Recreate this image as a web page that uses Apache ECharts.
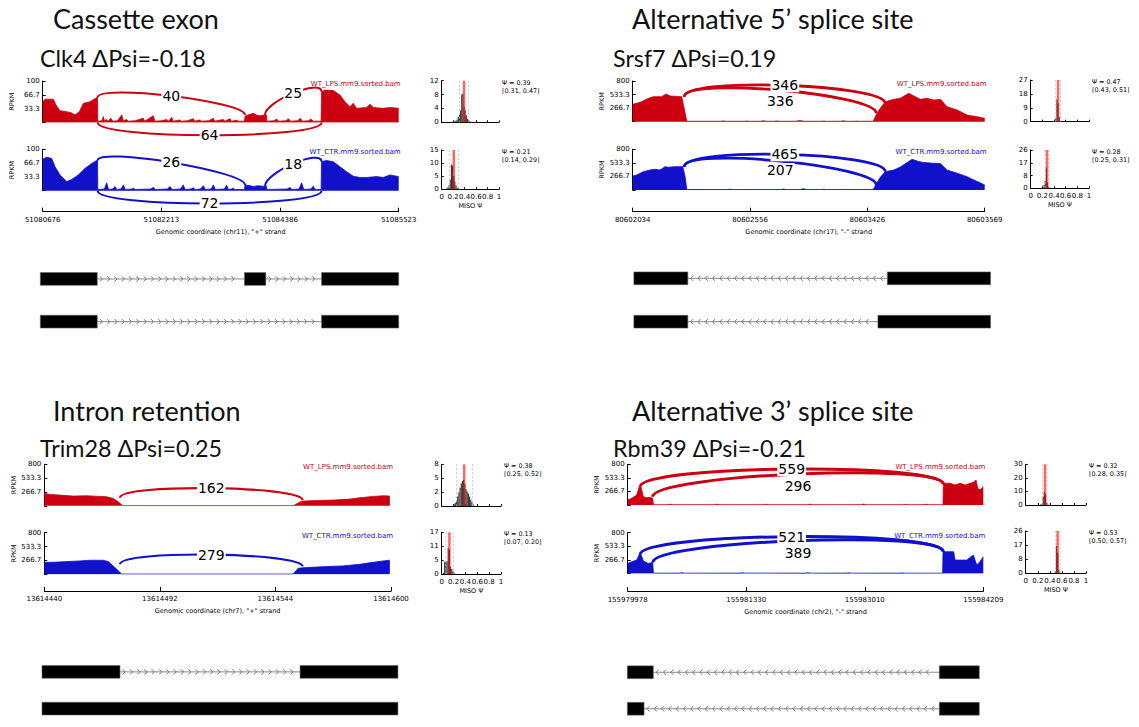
<!DOCTYPE html>
<html><head><meta charset="utf-8">
<script src="https://cdn.jsdelivr.net/npm/echarts@6/dist/echarts.min.js"></script>
<style>html,body{margin:0;padding:0;background:#fff}#c{width:1139px;height:727px}</style>
</head><body><div id="c"></div><script>
const RED = '#CC0011', BLUE = '#1111CC';

// ---------- Clk4, cassette exon ----------
const clk4Ticks = ['51080676', '51082213', '51084386', '51085523'];
const clk4Lps = [[0,50],[2,56],[9,56],[11.2,42],[14.6,28],[20.2,26],[24.4,23],[27.2,18],[30.9,26],[34.3,46],[39.9,50],[45.5,60],[46.2,60],[46.4,3],
  [50,4],[51,14],[52,4],[53.5,7],[55,3],[57.5,10],[59,3],[63,4],[66.6,18],[68,4],[70.8,7],[72,3],[78,4],[84.8,10],[86,3],[93.2,16],[94.5,3],[100,4],[104.5,7],[106,3],[108.7,12],[110,3],[115.7,6],[117,3],[122,4],[126.9,9],[128,3],[132.5,6],[134,3],[140,4],[143.8,10],[145,3],[152.2,7],[153.5,3],[157.8,9],[159,3],[163.4,5],[165,3],[170,3],
  [170.5,15],[173,18],[177.5,22],[180,18],[183.1,16],[185,17],[187.3,18],[188.5,18],[188.9,3],
  [195,4],[197,8],[199,3],[205,4],[207,9],[209,3],[215,4],[217,10],[219,3],[224,4],[226,8],[228,3],[234.6,3],
  [235,74],[237.9,78],[244.9,77],[250.5,66],[254.7,50],[258.9,38],[261.7,46],[264.5,34],[273,36],[275.8,44],[278.6,36],[287,34],[292.6,36],[300,34]];
const clk4Ctr = [[0,76],[3.4,81],[7.6,78],[10.4,58],[14.6,38],[20.2,22],[24.4,27],[30,38],[35.7,54],[41.3,66],[45.5,73],[46.2,73],[46.4,3],
  [52,4],[53.9,19],[55.5,3],[59,4],[60.9,10],[62.5,3],[66,4],[68,14],[69.5,3],[75,4],[76.4,6],[78,3],[91,4],[93.2,8],[95,3],[105,4],[107.3,10],[109,3],[116,4],[118.5,14],[120,3],[125,4],[126.9,7],[128.5,3],[133,4],[135.4,12],[137,3],[142,4],[143.8,14],[145.5,3],[153,4],[155,13],[156.5,3],[159,4],[160.6,6],[162,3],[170,3],
  [170.5,14],[175,12],[177.5,10],[181,12],[185,11],[188.5,11],[188.9,3],
  [206,4],[208.4,8],[210,3],[216,4],[218.2,19],[220,3],[226,4],[228,11],[229.5,3],[234.6,3],
  [235,70],[239.1,73],[244.9,70],[250.5,58],[256.1,46],[261.7,35],[267.3,32],[273,32],[281.4,34],[287,32],[292.6,38],[300,34]];
// junctions: [leftSite, leftDensity, rightSite, rightDensity, reads, side(1 top / -1 bottom)]
const clk4LpsJxn = [[46.3,60,170.5,18,40,1],[187.3,18,235,74,25,1],[46.3,0,235,0,64,-1]];
const clk4CtrJxn = [[46.3,73,170.5,14,26,1],[187.3,11,235,70,18,1],[46.3,0,235,0,72,-1]];
const clk4LpsHist = [[0.23,0.3],[0.25,0.5],[0.27,0.8],[0.29,1.5],[0.31,2.2],[0.33,3.5],[0.35,8],[0.37,8.2],[0.39,4.5],[0.41,3.5],[0.43,2],[0.45,1],[0.47,0.6],[0.49,0.3]];
const clk4CtrHist = [[0.09,0.3],[0.11,0.8],[0.13,1.5],[0.15,3.6],[0.17,9.5],[0.19,9],[0.21,5.1],[0.23,3],[0.25,1.5],[0.27,0.6],[0.29,0.3]];
const clk4HistMax = [12, 15];
const clk4Psi = [[0.39,0.31,0.47],[0.21,0.14,0.29]];
const clk4Isoforms = [[[-2,46],[170,188],[235,300]], [[-2,46],[235,300]]];

// ---------- Srsf7, alternative 5' splice site ----------
const srsf7Ticks = ['80602034', '80602556', '80603426', '80603569'];
const srsf7Lps = [[0,341],[6.3,380],[13.4,459],[17.6,492],[24.7,492],[28.4,544],[31.9,505],[41.8,492],[42.4,492],[44,250],[46.1,8],
  [75,9],[77.4,15],[80,8],[95,9],[97.3,12],[100,8],[109,9],[111.5,20],[114,8],[120,9],[122.9,14],[126,8],[139,9],[142.8,25],[146,8],[160,9],[162.7,12],[165,8],[177,9],[179.7,18],[182,8],[189,9],[191.1,12],[193,8],[205,10],
  [207.6,140],[211,262],[215.3,393],[222.4,439],[228.1,459],[235.2,557],[238.1,525],[245.2,439],[250.9,459],[256.5,426],[262.2,439],[267.9,295],[276.5,230],[285,131],[293.5,98],[300,66]];
const srsf7Ctr = [[0,275],[3.4,295],[9.1,361],[14.8,393],[19.1,407],[23.3,393],[27.6,459],[30.4,446],[36.1,459],[42.7,459],[44.7,262],[46.1,10],
  [80,9],[83,15],[86,8],[109,9],[111.5,12],[114,8],[126,9],[128.6,18],[131,8],[143,9],[145.6,25],[148,8],[160,9],[162.7,14],[165,8],[177,9],[179.7,12],[182,8],[194,9],[196.8,10],[199,8],[205,10],
  [207.6,120],[211,250],[215.3,361],[222.4,393],[228.1,450],[235.2,560],[238.1,603],[243.7,560],[248,540],[256.5,525],[262.2,520],[267.9,393],[276.5,330],[285,262],[290.7,197],[296.4,140],[300,98]];
const srsf7LpsJxn = [[44,492,215.3,360,346,1],[44,492,207.6,164,336,1]];
const srsf7CtrJxn = [[44,459,215.3,361,465,1],[44,459,207.6,98,207,1]];
const srsf7LpsHist = [[0.39,0.5],[0.41,1],[0.43,2],[0.45,14.5],[0.47,12],[0.49,3],[0.51,0.6]];
const srsf7CtrHist = [[0.21,0.5],[0.23,2.3],[0.25,5],[0.27,14],[0.29,4],[0.31,1]];
const srsf7HistMax = [27, 26];
const srsf7Psi = [[0.47,0.43,0.51],[0.28,0.25,0.31]];
const srsf7Isoforms = [[[1,47],[217,305]], [[1,47],[209,305]]];

// ---------- Trim28, intron retention ----------
const trim28Ticks = ['13614440', '13614492', '13614544', '13614600'];
const trim28Lps = [[0,239],[4.9,219],[13.6,206],[25.1,187],[36.6,194],[48.2,181],[53.9,174],[59.7,142],[64,77],[67.8,3],[215.4,3],
  [222.6,90],[229.8,97],[250,110],[264.4,129],[273.1,155],[284.6,181],[293.3,194],[299,187]];
const trim28Ctr = [[0,230],[7.8,230],[19.3,243],[30.8,256],[39.5,269],[51,269],[55.4,243],[61.1,128],[66.9,3],[215.4,3],
  [219.7,115],[226.9,128],[244.2,147],[258.6,160],[273.1,192],[284.6,230],[293.3,256],[299,269]];
const trim28LpsJxn = [[65.5,155,223.5,110,162,1]];
const trim28CtrJxn = [[65.5,192,223.5,147,279,1]];
const trim28LpsHist = [[0.21,0.3],[0.23,0.6],[0.25,1],[0.27,1.8],[0.29,2.6],[0.31,3.5],[0.33,4.3],[0.35,4.8],[0.37,5],[0.39,4.2],[0.41,3.2],[0.43,2.8],[0.45,2.4],[0.47,1.8],[0.49,1.2],[0.51,0.7],[0.53,0.3]];
const trim28CtrHist = [[0.03,0.5],[0.05,5],[0.07,5],[0.09,5.2],[0.11,10.5],[0.13,10],[0.15,3],[0.17,2],[0.19,1],[0.21,0.4]];
const trim28HistMax = [8, 17];
const trim28Psi = [[0.38,0.25,0.52],[0.13,0.07,0.20]];
const trim28Isoforms = [[[-2,65.5],[221.3,306]], [[-2,306]]];

// ---------- Rbm39, alternative 3' splice site ----------
const rbm39Ticks = ['155979978', '155981330', '155983010', '155984209'];
const rbm39Lps = [[0,98],[3.4,131],[7.6,197],[9.8,361],[11.2,361],[13.2,164],[16,144],[18.8,151],[21.1,131],[21.7,5],
  [34,6],[35.7,15],[37.5,5],[73,6],[75,15],[77,5],[115,6],[117,12],[119,5],[152,6],[154,15],[156,5],[197,6],[199,18],[201,5],[233,6],[235,12],[237,5],[250,6],[252,15],[254,5],[266,5],
  [266.3,426],[271.9,426],[276.2,393],[280.4,426],[284.6,393],[291.6,446],[293.9,492],[295.3,328],[297.2,295],[300,361]];
const rbm39Ctr = [[0,197],[3.4,230],[7.6,262],[9.8,374],[11.2,374],[13.2,243],[17.4,197],[21.1,216],[21.7,5],
  [44,6],[46,14],[48,5],[95,6],[97,12],[99,5],[150,6],[152,14],[154,5],[185,6],[187,12],[189,5],[230,6],[232,10],[234,5],[265.7,5],
  [266,426],[275,426],[276.2,262],[286,262],[291.6,361],[294.5,164],[297.2,230],[300,328]];
const rbm39LpsJxn = [[10.4,361,266.3,410,559,1],[21.1,164,266.3,410,296,1]];
const rbm39CtrJxn = [[10.4,374,266.3,426,521,1],[21.1,216,266.3,426,389,1]];
const rbm39LpsHist = [[0.25,0.4],[0.27,1],[0.29,6],[0.31,9.8],[0.33,8],[0.35,1.5],[0.37,0.4]];
const rbm39CtrHist = [[0.47,0.4],[0.49,1],[0.51,16.8],[0.53,12.6],[0.55,2],[0.57,0.5]];
const rbm39HistMax = [30, 26];
const rbm39Psi = [[0.32,0.28,0.35],[0.53,0.50,0.57]];
const rbm39Isoforms = [[[-0.3,21.6],[262.9,296.6]], [[-0.3,13.8],[262.9,296.6]]];

const sampleNames = ['WT_LPS.mm9.sorted.bam', 'WT_CTR.mm9.sorted.bam'];
const sampleColors = [RED, BLUE];

const panels = [
  { title: 'Cassette exon', sub: 'Clk4 ΔPsi=-0.18', ticks: clk4Ticks, xName: 'Genomic coordinate (chr11), "+" strand', ymax: 100, strand: 1,
    cov: [clk4Lps, clk4Ctr], jxn: [clk4LpsJxn, clk4CtrJxn], hist: [clk4LpsHist, clk4CtrHist], histMax: clk4HistMax, psi: clk4Psi, iso: clk4Isoforms,
    L: { tx: 53, ty: 18, sx: 40, sy: 58, covLeft: 42.7, covW: 356, tTop: [81, 149.3], tH: 41.4, axOff: 21,
         hLeft: 441.7, hW: 57.3, hTop: [80.7, 150], hH: [41.6, 39.3], gTop: 257.6, gH: 85.4,
         arcH: 33, arcHb: 41, arcW: 2, lblDy: [[0,0,0],[0,0,0]] } },
  { title: 'Alternative 5’ splice site', sub: 'Srsf7 ΔPsi=0.19', ticks: srsf7Ticks, xName: 'Genomic coordinate (chr17), "-" strand', ymax: 800, strand: -1,
    cov: [srsf7Lps, srsf7Ctr], jxn: [srsf7LpsJxn, srsf7CtrJxn], hist: [srsf7LpsHist, srsf7CtrHist], histMax: srsf7HistMax, psi: srsf7Psi, iso: srsf7Isoforms,
    L: { tx: 632, ty: 18, sx: 613, sy: 58, covLeft: 632.7, covW: 352, tTop: [81, 149.3], tH: 40.7, axOff: 21.7,
         hLeft: 1030.7, hW: 58.3, hTop: [80, 150], hH: [41.7, 38.3], gTop: 256.6, gH: 86.8,
         arcH: 387, arcHb: 300, arcW: 2.8, lblDy: [[0,11],[0,9]] } },
  { title: 'Intron retention', sub: 'Trim28 ΔPsi=0.25', ticks: trim28Ticks, xName: 'Genomic coordinate (chr7), "+" strand', ymax: 800, strand: 1,
    cov: [trim28Lps, trim28Ctr], jxn: [trim28LpsJxn, trim28CtrJxn], hist: [trim28LpsHist, trim28CtrHist], histMax: trim28HistMax, psi: trim28Psi, iso: trim28Isoforms,
    L: { tx: 53, ty: 410, sx: 40, sy: 448, covLeft: 44.3, covW: 346.7, tTop: [464.3, 532.7], tH: 41.5, axOff: 16.7,
         hLeft: 441.7, hW: 59.3, hTop: [464.3, 532.3], hH: [41.7, 41.7], gTop: 653.5, gH: 88.6,
         arcH: 278, arcHb: 300, arcW: 2.2, lblDy: [[0],[0]] } },
  { title: 'Alternative 3’ splice site', sub: 'Rbm39 ΔPsi=-0.21', ticks: rbm39Ticks, xName: 'Genomic coordinate (chr2), "-" strand', ymax: 800, strand: -1,
    cov: [rbm39Lps, rbm39Ctr], jxn: [rbm39LpsJxn, rbm39CtrJxn], hist: [rbm39LpsHist, rbm39CtrHist], histMax: rbm39HistMax, psi: rbm39Psi, iso: rbm39Isoforms,
    L: { tx: 632, ty: 410, sx: 613, sy: 448, covLeft: 627.7, covW: 355.6, tTop: [464.3, 532.7], tH: 40.7, axOff: 17.7,
         hLeft: 1025.7, hW: 60.3, hTop: [464.3, 531], hH: [40.7, 42.3], gTop: 654, gH: 88,
         arcH: 430, arcHb: 300, arcW: 3, lblDy: [[0,12],[0,12]] } }
];

const grids = [], xAxes = [], yAxes = [], series = [], graphics = [];
const smallFont = (s) => ({ fontFamily: 'DejaVu Sans', fontSize: s, color: '#000' });
const axLine = { show: true, onZero: false, lineStyle: { color: '#000', width: 1 } };
function addText(x, y, text, font, fill, align) {
  graphics.push({ type: 'text', x, y, silent: true,
    style: { text, font, fill, textAlign: align || 'left', textVerticalAlign: 'middle', align: align || 'left', verticalAlign: 'middle' } });
}
function fmtY(v, max) {
  if (Math.abs(v) < 1e-9) return '';
  if (Math.abs(v - max) < 1e-6) return String(max);
  return (Math.round(v * 10) / 10).toFixed(1);
}
function arcRenderer(color, H, Hb, w, dys) {
  return function (params, api) {
    const x1 = api.value(0), y1 = api.value(1), x2 = api.value(2), y2 = api.value(3), n = api.value(4), side = api.value(5);
    let P;
    if (side > 0) P = [[x1, y1], [x1, y1 + H], [x2, y2 + H], [x2, y2]];
    else P = [[x1, 0], [x1, -Hb], [x2, -Hb], [x2, 0]];
    const p = P.map(q => api.coord(q));
    const mx = (p[0][0] + 3 * p[1][0] + 3 * p[2][0] + p[3][0]) / 8;
    const my = (p[0][1] + 3 * p[1][1] + 3 * p[2][1] + p[3][1]) / 8;
    const dy = (dys && dys[params.dataIndex]) || 0;
    return { type: 'group', children: [
      { type: 'bezierCurve', shape: { x1: p[0][0], y1: p[0][1], cpx1: p[1][0], cpy1: p[1][1], cpx2: p[2][0], cpy2: p[2][1], x2: p[3][0], y2: p[3][1] },
        style: { stroke: color, lineWidth: w, fill: 'none' } },
      { type: 'text', x: mx, y: my + dy, z2: 10,
        style: { text: String(n), font: '14px "DejaVu Sans"', fill: '#000', textAlign: 'center', textVerticalAlign: 'middle', align: 'center', verticalAlign: 'middle', backgroundColor: '#fff', padding: [0, 1] } }
    ] };
  };
}

panels.forEach((pn) => {
  const L = pn.L;
  addText(L.tx, L.ty, pn.title, '27px Lato', '#111');
  addText(L.sx, L.sy, pn.sub, '23.3px Lato', '#111');
  [0, 1].forEach((k) => {
    // coverage track
    const gi = grids.length;
    grids.push({ left: L.covLeft, top: L.tTop[k], width: L.covW, height: L.tH });
    const xi = xAxes.length, yi = yAxes.length;
    xAxes.push({ gridIndex: gi, type: 'value', min: 0, max: 300, interval: 100, show: k === 1, offset: L.axOff,
      axisLine: axLine, axisTick: { show: true, inside: true, length: 4, lineStyle: { color: '#000' } }, splitLine: { show: false },
      axisLabel: Object.assign(smallFont(7), { margin: 5, formatter: (v) => pn.ticks[Math.round(v / 100)] }),
      name: pn.xName, nameLocation: 'middle', nameGap: 17, nameTextStyle: smallFont(6.5) });
    yAxes.push({ gridIndex: gi, type: 'value', min: 0, max: pn.ymax, interval: pn.ymax / 3,
      axisLine: axLine, axisTick: { show: true, inside: true, length: 3, lineStyle: { color: '#000' } }, splitLine: { show: false },
      axisLabel: Object.assign(smallFont(7), { margin: 3, formatter: (v) => fmtY(v, pn.ymax) }),
      name: 'RPKM', nameLocation: 'middle', nameRotate: 90, nameGap: 27, nameTextStyle: smallFont(6.5) });
    series.push({ type: 'line', xAxisIndex: xi, yAxisIndex: yi, data: pn.cov[k], symbol: 'none', showSymbol: false, silent: true,
      lineStyle: { color: sampleColors[k], width: 0.8 }, areaStyle: { color: sampleColors[k], opacity: 1 }, itemStyle: { color: sampleColors[k] } });
    series.push({ type: 'custom', xAxisIndex: xi, yAxisIndex: yi, clip: false, z: 5, silent: true, data: pn.jxn[k],
      encode: { x: [0, 2], y: [1, 3] }, renderItem: arcRenderer(sampleColors[k], L.arcH, L.arcHb, L.arcW, L.lblDy[k]) });
    addText(L.covLeft + L.covW + 2, L.tTop[k] + 3, sampleNames[k], '7px "DejaVu Sans"', sampleColors[k], 'right');

    // MISO posterior histogram
    const hg = grids.length;
    grids.push({ left: L.hLeft, top: L.hTop[k], width: L.hW, height: L.hH[k] });
    const hxi = xAxes.length, hyi = yAxes.length;
    const M = pn.histMax[k];
    xAxes.push({ gridIndex: hg, type: 'value', min: 0, max: 1, interval: 0.2,
      axisLine: axLine, axisTick: { show: true, inside: true, length: 2, lineStyle: { color: '#000' } }, splitLine: { show: false },
      axisLabel: Object.assign(smallFont(7), { show: k === 1, margin: 4, formatter: (v) => (v === 0 ? '0' : v === 1 ? '1' : String(Math.round(v * 10) / 10)) }),
      name: k === 1 ? 'MISO Ψ' : '', nameLocation: 'middle', nameGap: 13, nameTextStyle: smallFont(6.5) });
    yAxes.push({ gridIndex: hg, type: 'value', min: 0, max: M, interval: M / 3,
      axisLine: axLine, axisTick: { show: true, inside: true, length: 2, lineStyle: { color: '#000' } }, splitLine: { show: false },
      axisLabel: Object.assign(smallFont(7), { margin: 3, formatter: (v) => String(Math.floor(v + 1e-6)) }) });
    series.push({ type: 'custom', xAxisIndex: hxi, yAxisIndex: hyi, silent: true, data: pn.hist[k], encode: { x: 0, y: 1 },
      renderItem: (params, api) => {
        const a = api.coord([api.value(0) - 0.01, api.value(1)]);
        const b = api.coord([api.value(0) + 0.01, 0]);
        return { type: 'rect', shape: { x: a[0], y: a[1], width: b[0] - a[0], height: b[1] - a[1] }, style: { fill: '#3a3a3a' } };
      } });
    const ps = pn.psi[k];
    series.push({ type: 'custom', xAxisIndex: hxi, yAxisIndex: hyi, silent: true, z: 4,
      data: [[ps[1], 1], [ps[2], 1], [ps[0], 0]], encode: { x: 0 },
      renderItem: (params, api) => {
        const t = api.value(1);
        const a = api.coord([api.value(0), M]);
        const b = api.coord([api.value(0), 0]);
        return { type: 'line', shape: { x1: a[0], y1: a[1], x2: b[0], y2: b[1] },
          style: t === 0 ? { stroke: 'rgba(255,0,0,0.6)', lineWidth: 2.5 } : { stroke: '#bbb', lineWidth: 0.8, lineDash: [2, 2] } };
      } });
    addText(L.hLeft + L.hW + 3, L.hTop[k] + 2, 'Ψ = ' + ps[0].toFixed(2), '6.4px "DejaVu Sans"', '#000');
    addText(L.hLeft + L.hW + 3, L.hTop[k] + 10, '[' + ps[1].toFixed(2) + ', ' + ps[2].toFixed(2) + ']', '6.4px "DejaVu Sans"', '#000');
  });

  // gene models
  const gg = grids.length;
  grids.push({ left: L.covLeft, top: L.gTop, width: L.covW, height: L.gH });
  const gxi = xAxes.length, gyi = yAxes.length;
  xAxes.push({ gridIndex: gg, type: 'value', min: 0, max: 300, show: false });
  yAxes.push({ gridIndex: gg, type: 'category', data: ['isoform 1', 'isoform 2'], inverse: true, show: false });
  const exons = [], introns = [];
  pn.iso.forEach((row, r) => {
    row.forEach((e, i) => {
      exons.push([e[0], e[1], r]);
      if (i < row.length - 1) introns.push([e[1], row[i + 1][0], r]);
    });
  });
  const s = pn.strand;
  series.push({ type: 'custom', xAxisIndex: gxi, yAxisIndex: gyi, clip: false, silent: true, data: introns, encode: { x: [0, 1], y: 2 },
    renderItem: (params, api) => {
      const a = api.coord([api.value(0), api.value(2)]);
      const b = api.coord([api.value(1), api.value(2)]);
      const kids = [{ type: 'line', shape: { x1: a[0], y1: a[1], x2: b[0], y2: b[1] }, style: { stroke: '#888', lineWidth: 1 } }];
      const step = 7.3;
      const n = Math.floor((b[0] - a[0] - 2) / step);
      for (let i = 0; i < n; i++) {
        const cx = a[0] + 4 + i * step;
        kids.push({ type: 'polyline', shape: { points: [[cx - s * 1.4, a[1] - 2.6], [cx + s * 1.2, a[1]], [cx - s * 1.4, a[1] + 2.6]] },
          style: { stroke: '#777', lineWidth: 1, fill: null } });
      }
      return { type: 'group', children: kids };
    } });
  series.push({ type: 'custom', xAxisIndex: gxi, yAxisIndex: gyi, clip: false, silent: true, z: 3, data: exons, encode: { x: [0, 1], y: 2 },
    renderItem: (params, api) => {
      const a = api.coord([api.value(0), api.value(2)]);
      const b = api.coord([api.value(1), api.value(2)]);
      return { type: 'rect', shape: { x: a[0], y: a[1] - 6.4, width: b[0] - a[0], height: 12.8 }, style: { fill: '#000', stroke: '#666', lineWidth: 0.6 } };
    } });
});

const chart = echarts.init(document.getElementById('c'), null, { renderer: 'svg' });
chart.setOption({ animation: false, backgroundColor: '#fff', grid: grids, xAxis: xAxes, yAxis: yAxes, series, graphic: graphics });
</script></body></html>
